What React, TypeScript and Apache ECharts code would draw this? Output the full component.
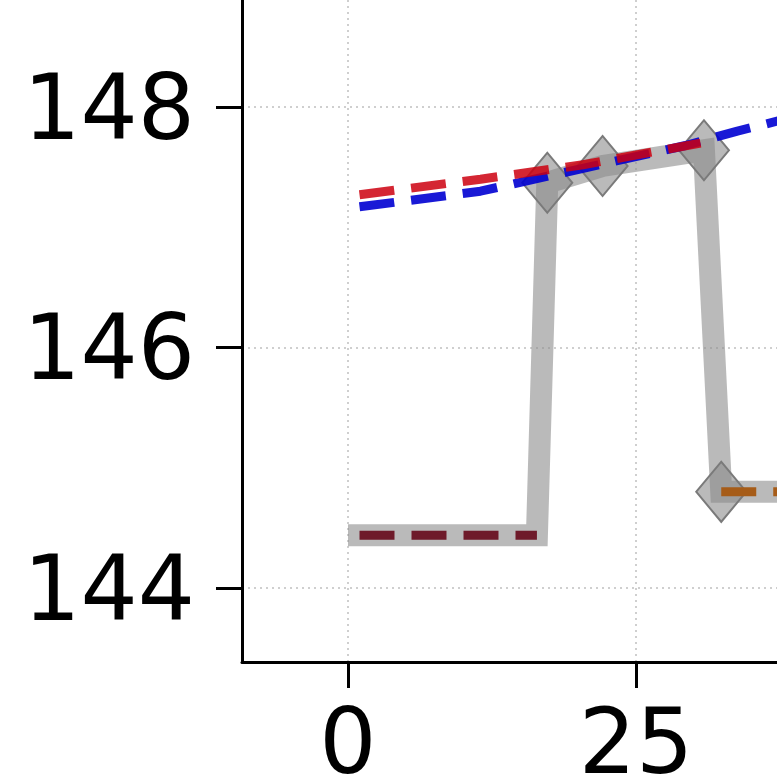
import React, { useEffect, useRef } from "react";
import * as echarts from "echarts";

const xTicks = [0, 25];
const yTicks = [144, 146, 148];

const grayX = [0, 16.4, 17.3, 22.1, 30.9, 32.4, 38];
const grayY = [144.44, 144.44, 147.37, 147.51, 147.64, 144.8, 144.8];
const grayMarked = [false, false, true, true, true, true, false];

const maroonX = [1, 16.4];
const maroonY = [144.44, 144.44];

const orangeX = [32.4, 38];
const orangeY = [144.8, 144.8];

const redX = [1, 11.5, 20.4, 30.6];
const redY = [147.27, 147.4, 147.52, 147.7];

const blueX = [1, 11.5, 29.3, 33.8, 38];
const blueY = [147.17, 147.3, 147.68, 147.8, 147.9];

const zip = (xs: number[], ys: number[]) => xs.map((x, i) => [x, ys[i]]);

export default function App() {
  const ref = useRef<HTMLDivElement>(null);
  useEffect(() => {
    if (!ref.current) return;
    const chart = echarts.init(ref.current, null, { renderer: "svg" });
    const font = "DejaVu Sans";
    const dashed = (name: string, data: number[][], color: string, z: number) => ({
      name,
      type: "line",
      data,
      symbol: "none",
      z,
      clip: true,
      lineStyle: { color, width: 9, type: [35, 17], cap: "butt" },
    });
    chart.setOption({
      animation: false,
      backgroundColor: "#ffffff",
      grid: {
        left: 242,
        top: 0,
        width: 535,
        height: 662,
        containLabel: false,
        outerBoundsMode: "none",
      },
      xAxis: {
        type: "value",
        min: -9.2,
        max: 37.24,
        axisLine: { show: true, onZero: false, lineStyle: { color: "#000", width: 3 } },
        axisTick: { show: true, length: 26, lineStyle: { color: "#000", width: 3 }, customValues: xTicks },
        axisLabel: {
          fontSize: 90,
          lineHeight: 60,
          color: "#000",
          fontFamily: font,
          margin: 49,
          customValues: xTicks,
        },
        splitLine: { show: true, lineStyle: { color: "#cfcfcf", width: 2, type: [2, 4] } },
      },
      yAxis: {
        type: "value",
        min: 143.385,
        max: 148.89,
        axisLine: { show: true, onZero: false, lineStyle: { color: "#000", width: 3 } },
        axisTick: { show: true, length: 26, lineStyle: { color: "#000", width: 3 }, customValues: yTicks },
        axisLabel: {
          fontSize: 90,
          color: "#000",
          fontFamily: font,
          margin: 47,
          padding: [6, 0, 0, 0],
          customValues: yTicks,
        },
        splitLine: { show: true, lineStyle: { color: "#cfcfcf", width: 2, type: [2, 4] } },
      },
      series: [
        {
          name: "observed",
          type: "line",
          z: 2,
          clip: true,
          data: grayX.map((x, i) => ({
            value: [x, grayY[i]],
            symbol: grayMarked[i] ? "diamond" : "none",
          })),
          symbolSize: [50, 60],
          showSymbol: true,
          lineStyle: { color: "rgba(140,140,140,0.6)", width: 22, cap: "butt", join: "miter" },
          itemStyle: { color: "rgba(140,140,140,0.6)", borderColor: "#7a7a7a", borderWidth: 2 },
        },
        dashed("segment 1", zip(maroonX, maroonY), "#6e1a2a", 3),
        dashed("segment 2", zip(orangeX, orangeY), "#a65c18", 3),
        dashed("trend blue", zip(blueX, blueY), "rgba(0,0,210,0.9)", 4),
        dashed("trend red", zip(redX, redY), "rgba(205,0,15,0.85)", 5),
      ],
    });
    return () => chart.dispose();
  }, []);
  return (
    <div
      ref={ref}
      style={{ position: "absolute", left: 0, top: 0, width: 777, height: 778 }}
    />
  );
}
